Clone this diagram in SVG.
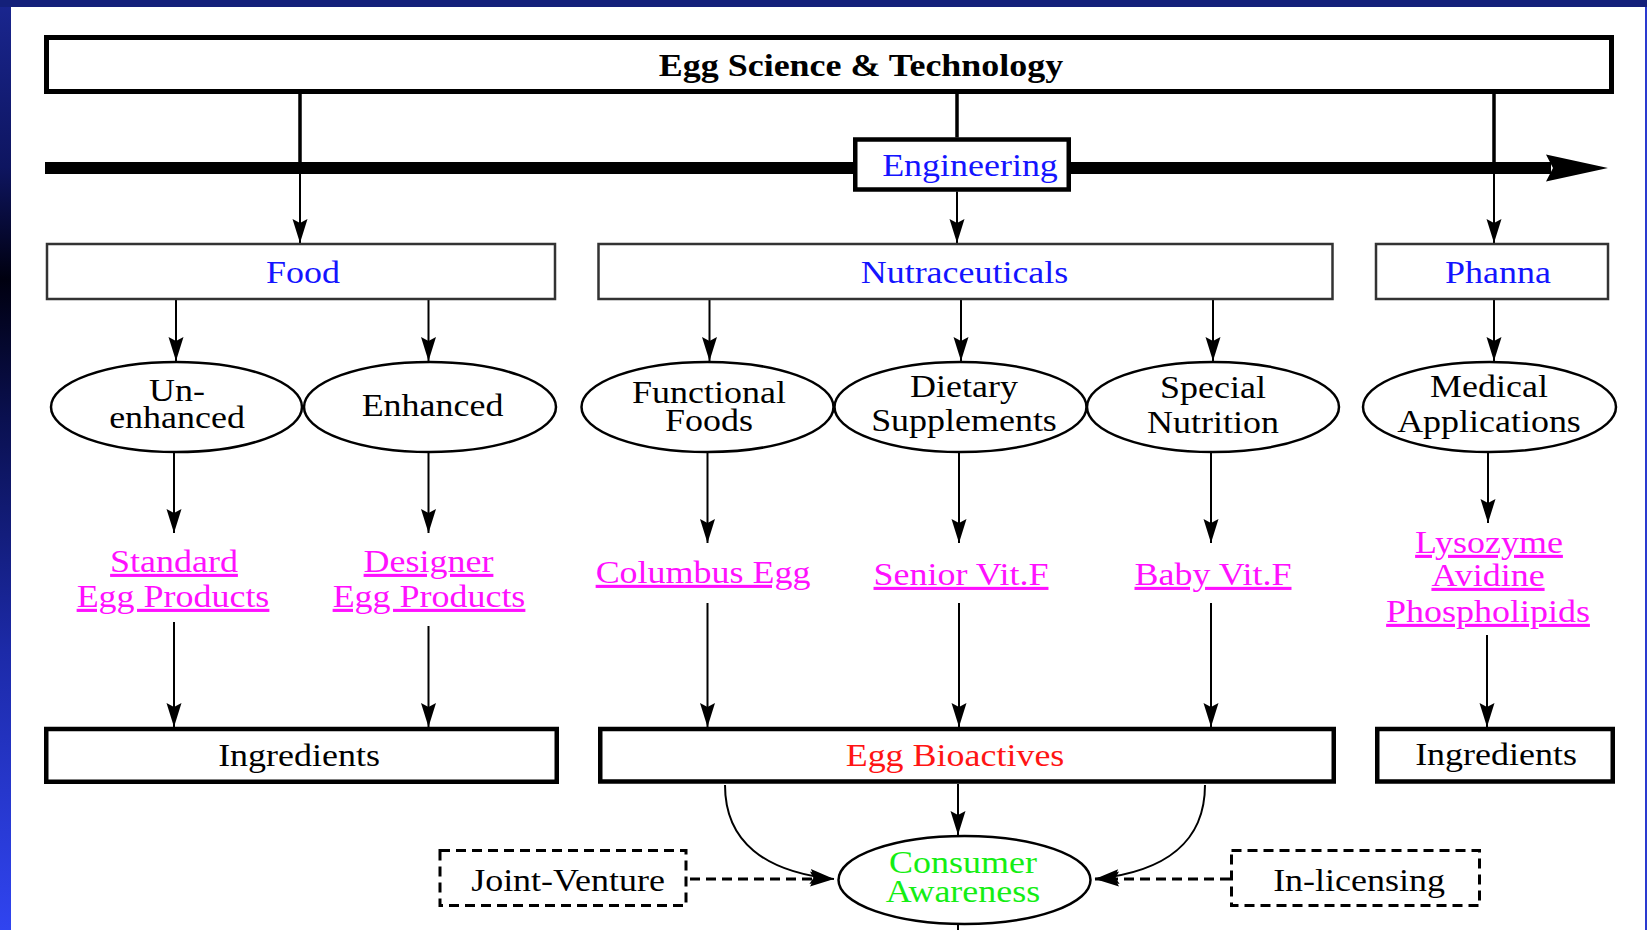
<svg xmlns="http://www.w3.org/2000/svg" width="1647" height="930" viewBox="0 0 1647 930">
<defs>
<linearGradient id="lg" x1="0" y1="0" x2="0" y2="1">
<stop offset="0" stop-color="#1a2690"/>
<stop offset="0.18" stop-color="#0e1560"/>
<stop offset="0.3" stop-color="#000010"/>
<stop offset="0.45" stop-color="#0a1050"/>
<stop offset="0.7" stop-color="#1c2aa8"/>
<stop offset="1" stop-color="#3044f0"/>
</linearGradient>
<marker id="ah" markerUnits="userSpaceOnUse" markerWidth="26" markerHeight="18" refX="24" refY="8" orient="auto" overflow="visible">
<path d="M0,0.5 L24,8 L0,15.5 L4,8 Z" fill="#000"/>
</marker>
<style>
.t{font-family:"Liberation Serif","Times New Roman",serif;font-size:31px;text-anchor:middle;fill:#000}
.b{font-weight:bold}
.blue{fill:#1414ff}
.pink{fill:#ff10ff;text-decoration:underline}
.red{fill:#ff1414}
.green{fill:#14ee14}
.thin{fill:#fff;stroke:#333;stroke-width:2.5}
.thick{fill:#fff;stroke:#000;stroke-width:4.5}
.ell{fill:#fff;stroke:#000;stroke-width:2.5}
.dash{fill:#fff;stroke:#000;stroke-width:3;stroke-dasharray:10 6}
.c{stroke:#000;stroke-width:2;fill:none}
.cw{stroke:#000;stroke-width:3.5;fill:none}
.cd{stroke:#000;stroke-width:3;fill:none;stroke-dasharray:10 6}
</style>
</defs>
<rect x="0" y="0" width="1647" height="930" fill="#fff"/>
<rect x="0" y="0" width="11" height="930" fill="url(#lg)"/>
<rect x="1645" y="0" width="2" height="930" fill="#2a3ad0"/>
<rect x="0" y="0" width="1647" height="7" fill="#14207a"/>

<g id="connectors">
<line class="cw" x1="300" y1="92" x2="300" y2="162"/>
<line class="c" x1="300" y1="174" x2="300" y2="243" marker-end="url(#ah)"/>
<line class="cw" x1="957" y1="92" x2="957" y2="137.5"/>
<line class="c" x1="957" y1="191.5" x2="957" y2="243" marker-end="url(#ah)"/>
<line class="cw" x1="1494" y1="92" x2="1494" y2="162"/>
<line class="c" x1="1494" y1="174" x2="1494" y2="243" marker-end="url(#ah)"/>
<rect x="45" y="162" width="1506" height="12" fill="#000"/>
<path d="M1546,154.5 L1608,168 L1546,181.5 L1553,168 Z" fill="#000"/>

<line class="c" x1="176" y1="300" x2="176" y2="361" marker-end="url(#ah)"/>
<line class="c" x1="428.5" y1="300" x2="428.5" y2="361" marker-end="url(#ah)"/>
<line class="c" x1="709.5" y1="300" x2="709.5" y2="361" marker-end="url(#ah)"/>
<line class="c" x1="961" y1="300" x2="961" y2="361" marker-end="url(#ah)"/>
<line class="c" x1="1213" y1="300" x2="1213" y2="361" marker-end="url(#ah)"/>
<line class="c" x1="1494" y1="300" x2="1494" y2="361" marker-end="url(#ah)"/>

<line class="c" x1="174" y1="452" x2="174" y2="533" marker-end="url(#ah)"/>
<line class="c" x1="428.5" y1="452" x2="428.5" y2="533" marker-end="url(#ah)"/>
<line class="c" x1="707.5" y1="452" x2="707.5" y2="543" marker-end="url(#ah)"/>
<line class="c" x1="959" y1="452" x2="959" y2="543" marker-end="url(#ah)"/>
<line class="c" x1="1211" y1="452" x2="1211" y2="543" marker-end="url(#ah)"/>
<line class="c" x1="1488" y1="452" x2="1488" y2="523" marker-end="url(#ah)"/>

<line class="c" x1="174" y1="622" x2="174" y2="727" marker-end="url(#ah)"/>
<line class="c" x1="428.5" y1="626" x2="428.5" y2="727" marker-end="url(#ah)"/>
<line class="c" x1="707.5" y1="603" x2="707.5" y2="727" marker-end="url(#ah)"/>
<line class="c" x1="959" y1="603" x2="959" y2="727" marker-end="url(#ah)"/>
<line class="c" x1="1211" y1="603" x2="1211" y2="727" marker-end="url(#ah)"/>
<line class="c" x1="1487" y1="635" x2="1487" y2="727" marker-end="url(#ah)"/>

<line class="c" x1="958" y1="784" x2="958" y2="835" marker-end="url(#ah)"/>
<path class="c" d="M725,785 C725,842 765,872 834,879" marker-end="url(#ah)"/>
<path class="c" d="M1205,785 C1205,842 1165,872 1095,879" marker-end="url(#ah)"/>
<line class="cd" x1="690" y1="879" x2="834" y2="879" marker-end="url(#ah)"/>
<line class="cd" x1="1230" y1="879" x2="1095" y2="879" marker-end="url(#ah)"/>
<line class="c" x1="958" y1="924" x2="958" y2="930"/>
</g>

<g id="egg-science">
<rect x="46.5" y="37.5" width="1565" height="54" fill="#fff" stroke="#000" stroke-width="5"/>
<text class="t b" transform="translate(861 76) scale(1.16 1)">Egg Science &amp; Technology</text>
</g>
<g id="engineering">
<rect class="thick" x="855.25" y="139.5" width="213.5" height="50"/>
<text class="t blue" transform="translate(970 176) scale(1.16 1)">Engineering</text>
</g>
<g id="food">
<rect class="thin" x="47" y="244" width="508" height="55"/>
<text class="t blue" transform="translate(303 283) scale(1.16 1)">Food</text>
</g>
<g id="nutraceuticals">
<rect class="thin" x="598.5" y="244" width="734" height="55"/>
<text class="t blue" transform="translate(964.5 283) scale(1.16 1)">Nutraceuticals</text>
</g>
<g id="pharma">
<rect class="thin" x="1376" y="244" width="232" height="55"/>
<text class="t blue" transform="translate(1498 283) scale(1.16 1)">Phanna</text>
</g>

<g id="un-enhanced">
<ellipse class="ell" cx="176.5" cy="407" rx="125.5" ry="45"/>
<text class="t" transform="translate(177 401) scale(1.16 1)">Un-</text>
<text class="t" transform="translate(177 428) scale(1.16 1)">enhanced</text>
</g>
<g id="enhanced">
<ellipse class="ell" cx="430" cy="407" rx="126" ry="45"/>
<text class="t" transform="translate(432.5 416) scale(1.16 1)">Enhanced</text>
</g>
<g id="functional-foods">
<ellipse class="ell" cx="707.5" cy="407" rx="126" ry="45"/>
<text class="t" transform="translate(709 403) scale(1.16 1)">Functional</text>
<text class="t" transform="translate(709 431) scale(1.16 1)">Foods</text>
</g>
<g id="dietary-supplements">
<ellipse class="ell" cx="960.5" cy="407" rx="126" ry="45"/>
<text class="t" transform="translate(964 397) scale(1.16 1)">Dietary</text>
<text class="t" transform="translate(964 431) scale(1.16 1)">Supplements</text>
</g>
<g id="special-nutrition">
<ellipse class="ell" cx="1213" cy="407" rx="126" ry="45"/>
<text class="t" transform="translate(1213 398) scale(1.16 1)">Special</text>
<text class="t" transform="translate(1213 433) scale(1.16 1)">Nutrition</text>
</g>
<g id="medical-applications">
<ellipse class="ell" cx="1489.5" cy="407" rx="126.5" ry="45"/>
<text class="t" transform="translate(1489 397) scale(1.16 1)">Medical</text>
<text class="t" transform="translate(1489 432) scale(1.16 1)">Applications</text>
</g>

<g id="standard-egg-products">
<text class="t pink" transform="translate(174 572) scale(1.16 1)">Standard</text>
<text class="t pink" transform="translate(173 607) scale(1.16 1)">Egg Products</text>
</g>
<g id="designer-egg-products">
<text class="t pink" transform="translate(428.5 572) scale(1.16 1)">Designer</text>
<text class="t pink" transform="translate(429 607) scale(1.16 1)">Egg Products</text>
</g>
<g id="columbus-egg">
<text class="t pink" transform="translate(703 583) scale(1.16 1)">Columbus Egg</text>
</g>
<g id="senior-vitf">
<text class="t pink" transform="translate(961 585) scale(1.16 1)">Senior Vit.F</text>
</g>
<g id="baby-vitf">
<text class="t pink" transform="translate(1213 585) scale(1.16 1)">Baby Vit.F</text>
</g>
<g id="pharma-products">
<text class="t pink" transform="translate(1489 553) scale(1.16 1)">Lysozyme</text>
<text class="t pink" transform="translate(1488 586) scale(1.16 1)">Avidine</text>
<text class="t pink" transform="translate(1488 622) scale(1.16 1)">Phospholipids</text>
</g>

<g id="ingredients-food">
<rect class="thick" x="46.25" y="729" width="510.5" height="52.75"/>
<text class="t" transform="translate(299 766) scale(1.16 1)">Ingredients</text>
</g>
<g id="egg-bioactives">
<rect class="thick" x="600.25" y="729" width="733.5" height="52.5"/>
<text class="t red" transform="translate(955 766) scale(1.16 1)">Egg Bioactives</text>
</g>
<g id="ingredients-pharma">
<rect class="thick" x="1377.25" y="729" width="235.5" height="52.5"/>
<text class="t" transform="translate(1496 765) scale(1.16 1)">Ingredients</text>
</g>

<g id="joint-venture">
<rect class="dash" x="440" y="850.5" width="246" height="55"/>
<text class="t" transform="translate(568 891) scale(1.16 1)">Joint-Venture</text>
</g>
<g id="consumer-awareness">
<ellipse class="ell" cx="964.5" cy="880" rx="126" ry="44"/>
<text class="t green" transform="translate(963 873) scale(1.16 1)">Consumer</text>
<text class="t green" transform="translate(963 902) scale(1.16 1)">Awareness</text>
</g>
<g id="in-licensing">
<rect class="dash" x="1231.5" y="850.5" width="248" height="55"/>
<text class="t" transform="translate(1359 891) scale(1.16 1)">In-licensing</text>
</g>
</svg>
